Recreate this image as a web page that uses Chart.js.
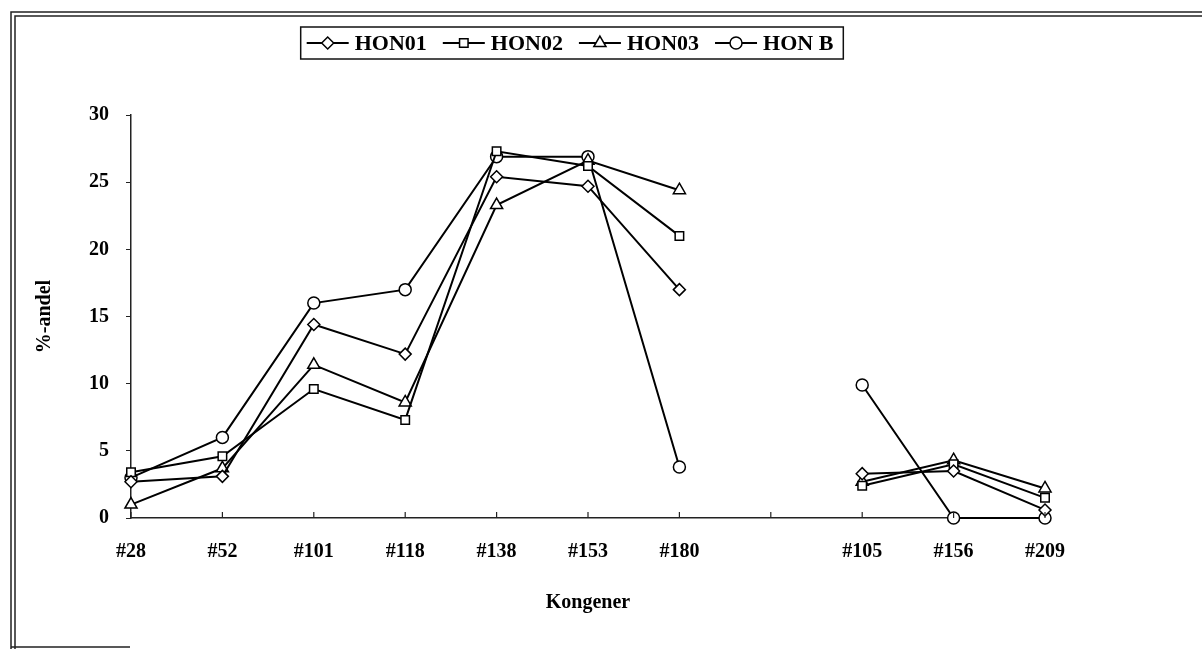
<!DOCTYPE html>
<html lang="da">
<head>
  <meta charset="UTF-8" />
  <title>Kongener %-andel</title>
  <script src="https://cdn.jsdelivr.net/npm/chart.js"></script>
  <style>
    body { margin: 0; background: #fff; }
    canvas { display: block; }
  </style>
</head>
<body>
  <canvas id="kongenerChart" width="1202" height="649"></canvas>

  <script>
    // kategorier (tom plads mellem #180 og #105)
    const kongener = ['#28', '#52', '#101', '#118', '#138', '#153', '#180', '', '#105', '#156', '#209'];

    const hon01 = [2.7, 3.1, 14.4, 12.2, 25.4, 24.7, 17.0, null, 3.3, 3.5, 0.6];
    const hon02 = [3.4, 4.6, 9.6, 7.3, 27.3, 26.2, 21.0, null, 2.4, 4.0, 1.5];
    const hon03 = [1.0, 3.7, 11.4, 8.6, 23.3, 26.6, 24.4, null, 2.7, 4.3, 2.2];
    const honB  = [3.0, 6.0, 16.0, 17.0, 26.9, 26.9, 3.8, null, 9.9, 0.0, 0.0];

    const FONT = "'Liberation Serif', 'Times New Roman', serif";

    function serie(label, data, style) {
      return {
        label: label,
        data: data,
        borderColor: '#000',
        borderWidth: 2,
        backgroundColor: '#fff',
        pointStyle: style,
        pointRadius: style === 'triangle' ? 7 : 6,
        pointBorderWidth: 1.5,
        pointBorderColor: '#000',
        pointBackgroundColor: '#fff',
        tension: 0,
        spanGaps: false,
        clip: false
      };
    }

    // dobbelt ramme rundt om figuren
    const rammePlugin = {
      id: 'ramme',
      beforeDraw(chart) {
        const c = chart.ctx;
        c.save();
        c.fillStyle = '#fff';
        c.fillRect(0, 0, chart.width, chart.height);
        c.strokeStyle = '#222';
        c.lineWidth = 1.5;
        c.beginPath();
        c.moveTo(11, 649); c.lineTo(11, 12); c.lineTo(1202, 12);
        c.moveTo(15, 649); c.lineTo(15, 16); c.lineTo(1202, 16);
        c.moveTo(11, 647); c.lineTo(130, 647);
        c.stroke();
        c.restore();
      }
    };

    // små tick-streger indad på x-aksen
    const tickPlugin = {
      id: 'xticks',
      afterDraw(chart) {
        const c = chart.ctx;
        const x = chart.scales.x;
        c.save();
        c.strokeStyle = '#222';
        c.lineWidth = 1.2;
        c.beginPath();
        x.ticks.forEach((t, i) => {
          const px = x.getPixelForTick(i);
          c.moveTo(px, x.top);
          c.lineTo(px, x.top - 6);
        });
        c.stroke();
        c.restore();
      }
    };

    // legende i boks med linje + markør
    const legendePlugin = {
      id: 'legende',
      afterDraw(chart) {
        const c = chart.ctx;
        c.save();
        c.font = 'bold 22px ' + FONT;
        c.textBaseline = 'middle';
        const lineLen = 42, gap1 = 6, gap2 = 16;
        const items = chart.data.datasets.map(ds => ({ ds: ds, w: c.measureText(ds.label).width }));
        let total = items.reduce((s, it) => s + lineLen + gap1 + it.w + gap2, 0) - gap2;
        const boxW = total + 16;
        const boxX = 572 - boxW / 2, boxY = 27, boxH = 32;
        c.strokeStyle = '#111';
        c.lineWidth = 1.5;
        c.strokeRect(boxX, boxY, boxW, boxH);
        const cy = boxY + boxH / 2;
        let x = boxX + 6;
        items.forEach(it => {
          c.strokeStyle = '#000';
          c.lineWidth = 2;
          c.beginPath();
          c.moveTo(x, cy); c.lineTo(x + lineLen, cy);
          c.stroke();
          c.fillStyle = '#fff';
          c.lineWidth = 1.5;
          Chart.helpers.drawPoint(c, {
            pointStyle: it.ds.pointStyle,
            radius: it.ds.pointRadius,
            rotation: 0,
            borderWidth: 1.5
          }, x + lineLen / 2, cy);
          x += lineLen + gap1;
          c.fillStyle = '#000';
          c.fillText(it.ds.label, x, cy + 1);
          x += it.w + gap2;
        });
        c.restore();
      }
    };

    const ctx = document.getElementById('kongenerChart').getContext('2d');

    new Chart(ctx, {
      type: 'line',
      data: {
        labels: kongener,
        datasets: [
          serie('HON01', hon01, 'rectRot'),
          serie('HON02', hon02, 'rect'),
          serie('HON03', hon03, 'triangle'),
          serie('HON B', honB, 'circle')
        ]
      },
      options: {
        responsive: false,
        devicePixelRatio: 1,
        animation: false,
        layout: { padding: { top: 115, right: 157, left: 0, bottom: 0 } },
        plugins: {
          legend: { display: false },
          tooltip: { enabled: false }
        },
        scales: {
          x: {
            offset: false,
            grid: { display: true, drawOnChartArea: false, drawTicks: false },
            border: { display: true, color: '#222', width: 1.5 },
            ticks: {
              color: '#000',
              font: { family: FONT, size: 20, weight: 'bold' },
              padding: 22,
              maxRotation: 0,
              autoSkip: false
            },
            title: {
              display: true,
              text: 'Kongener',
              color: '#000',
              font: { family: FONT, size: 20, weight: 'bold' },
              padding: { top: 0, bottom: 34 }
            },
            afterFit: s => { s.height = 131; }
          },
          y: {
            min: 0,
            max: 30,
            ticks: {
              stepSize: 5,
              color: '#000',
              font: { family: FONT, size: 20, weight: 'bold' },
              padding: 17
            },
            grid: { display: true, drawOnChartArea: false, drawTicks: true, tickLength: 5, color: '#222' },
            border: { display: true, color: '#222', width: 1.5 },
            title: {
              display: true,
              text: '%-andel',
              color: '#000',
              font: { family: FONT, size: 20, weight: 'bold' },
              padding: { top: 33, bottom: 0 }
            },
            afterFit: s => { s.width = 131; }
          }
        }
      },
      plugins: [rammePlugin, tickPlugin, legendePlugin]
    });
  </script>
</body>
</html>
